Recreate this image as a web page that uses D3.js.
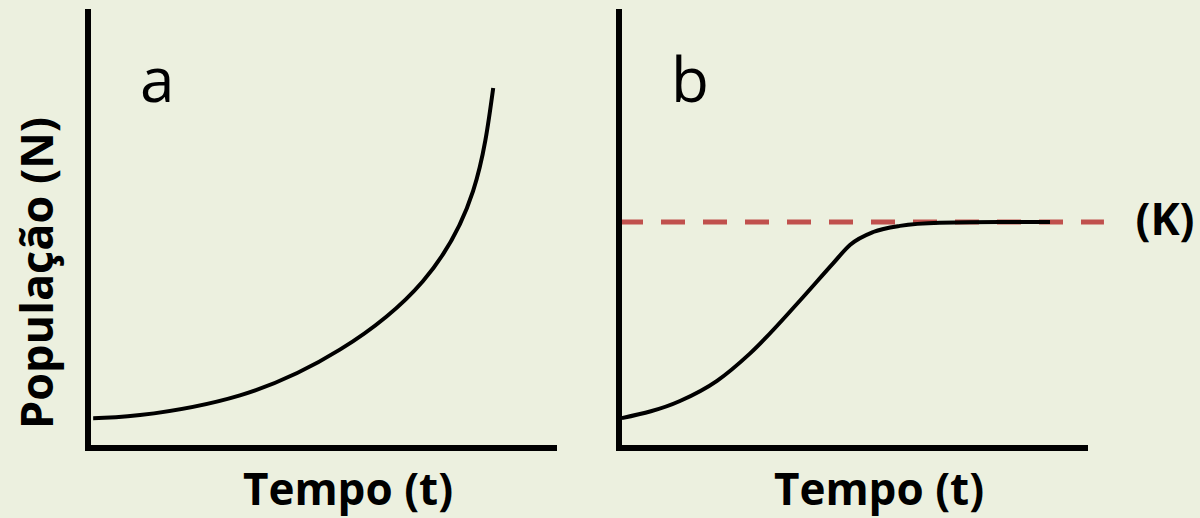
<!DOCTYPE html>
<html>
<head>
<meta charset="utf-8">
<script src="https://cdn.jsdelivr.net/npm/d3@7"></script>
<style>
  body { margin: 0; background: #ECF0DF; }
  svg { display: block; }
</style>
</head>
<body>
<div id="chart"></div>
<script>
// curve values (t and N in % of axis length)
var expT = [1.1, 11.1, 32.4, 53.7, 71.4, 82.1, 86.4];
var expN = [6.8, 7.5, 12.0, 22.4, 38.0, 58.5, 82.0];

var logT = [0.6, 13.0, 20.9, 27.9, 38.6, 45.6, 49.3, 54.2, 59.9, 68.4, 81.2, 91.9];
var logN = [6.8, 10.7, 15.3, 21.5, 33.6, 42.0, 46.3, 49.2, 50.6, 51.3, 51.5, 51.5];

var capacityK = 51.5;
var panelLabels = ["a", "b"];
var xLabel = "Tempo (t)";
var yLabel = "População (N)";
var kLabel = "(K)";

var width = 1200, height = 518;

var svg = d3.select("#chart")
  .append("svg")
    .attr("width", width)
    .attr("height", height);

svg.append("rect")
  .attr("width", width)
  .attr("height", height)
  .attr("fill", "#ECF0DF");

var fontFam = "'Open Sans', 'Noto Sans', sans-serif";

// two panels, same size
var panels = [
  {left: 88, t: expT, n: expN, label: panelLabels[0], curve: d3.curveNatural},
  {left: 619, t: logT, n: logN, label: panelLabels[1], curve: d3.curveMonotoneX}
];
var plotW = 469, plotTop = 9, plotBottom = 448;

panels.forEach(function(p, i) {
  var x = d3.scaleLinear().domain([0, 100]).range([p.left, p.left + plotW]);
  var y = d3.scaleLinear().domain([0, 100]).range([plotBottom, plotTop]);

  var pts = p.t.map(function(d, j) { return [d, p.n[j]]; });

  // K line goes under the curve
  if (i == 1) {
    svg.append("line")
      .attr("x1", x(0))
      .attr("x2", x(103.4))
      .attr("y1", y(capacityK))
      .attr("y2", y(capacityK))
      .attr("stroke", "#C0504D")
      .attr("stroke-width", 5)
      .attr("stroke-dasharray", "24,18");

    svg.append("text")
      .attr("x", 1165)
      .attr("y", 235)
      .attr("text-anchor", "middle")
      .style("font-family", fontFam)
      .style("font-weight", "bold")
      .style("font-size", "44px")
      .text(kLabel);
  }

  var line = d3.line()
    .x(function(d) { return x(d[0]); })
    .y(function(d) { return y(d[1]); })
    .curve(p.curve);

  svg.append("path")
    .datum(pts)
    .attr("d", line)
    .attr("fill", "none")
    .attr("stroke", "black")
    .attr("stroke-width", 4);

  // axes as an L shape
  svg.append("path")
    .attr("d", "M" + x(0) + "," + y(100) + "V" + y(0) + "H" + x(100))
    .attr("fill", "none")
    .attr("stroke", "black")
    .attr("stroke-width", 6);

  svg.append("text")
    .attr("x", x(0) + 52)
    .attr("y", 102)
    .style("font-family", fontFam)
    .style("font-size", "62px")
    .text(p.label);

  svg.append("text")
    .attr("x", x(0) + 260)
    .attr("y", 505)
    .attr("text-anchor", "middle")
    .style("font-family", fontFam)
    .style("font-weight", "bold")
    .style("font-size", "44px")
    .text(xLabel);
});

svg.append("text")
  .attr("transform", "translate(53,273)rotate(-90)")
  .attr("text-anchor", "middle")
  .style("font-family", fontFam)
  .style("font-weight", "bold")
  .style("font-size", "45px")
  .text(yLabel);
</script>
</body>
</html>
